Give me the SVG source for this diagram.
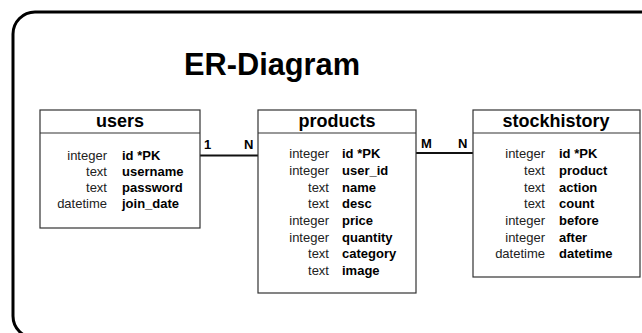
<svg xmlns="http://www.w3.org/2000/svg" width="642" height="333" viewBox="0 0 642 333">
<style>
.frame{fill:none;stroke:#000;stroke-width:3}
.box{fill:#fff;stroke:#333;stroke-width:1.2}
.hdr{font-family:"Liberation Sans",Arial,sans-serif;font-weight:bold;font-size:18px;fill:#000;text-anchor:middle}
.typ{font-family:"Liberation Sans",Arial,sans-serif;font-size:13px;fill:#222;text-anchor:end}
.nm{font-family:"Liberation Sans",Arial,sans-serif;font-size:13px;font-weight:bold;fill:#000}
.card{font-family:"Liberation Sans",Arial,sans-serif;font-size:13px;font-weight:bold;fill:#000}
.conn{stroke:#111;stroke-width:2.2;fill:none}
</style>
<rect width="642" height="333" fill="#fff"/>
<rect class="frame" x="13" y="12" width="660" height="326" rx="22"/>
<text x="272" y="75" font-family="'Liberation Sans',Arial,sans-serif" font-weight="bold" font-size="31" text-anchor="middle" textLength="176" lengthAdjust="spacingAndGlyphs">ER-Diagram</text>
<g id="connectors">
<line class="conn" x1="200" y1="155.5" x2="258" y2="155.5"/>
<line class="conn" x1="416" y1="153" x2="473" y2="153"/>
<text class="card" x="204" y="149">1</text>
<text class="card" x="244" y="149">N</text>
<text class="card" x="421" y="148">M</text>
<text class="card" x="458" y="148">N</text>
</g>
<g id="users">
<rect class="box" x="40" y="110" width="160" height="118"/>
<line class="box" x1="40" y1="133" x2="200" y2="133"/>
<text class="hdr" x="120" y="127">users</text>
<text class="typ" x="107" y="160">integer</text><text class="nm" x="122" y="160">id *PK</text>
<text class="typ" x="107" y="176">text</text><text class="nm" x="122" y="176">username</text>
<text class="typ" x="107" y="192">text</text><text class="nm" x="122" y="192">password</text>
<text class="typ" x="107" y="208">datetime</text><text class="nm" x="122" y="208">join_date</text>
</g>
<g id="products">
<rect class="box" x="258" y="110" width="158" height="183"/>
<line class="box" x1="258" y1="133" x2="416" y2="133"/>
<text class="hdr" x="337" y="127">products</text>
<text class="typ" x="329" y="158">integer</text><text class="nm" x="342" y="158">id *PK</text>
<text class="typ" x="329" y="175">integer</text><text class="nm" x="342" y="175">user_id</text>
<text class="typ" x="329" y="191.5">text</text><text class="nm" x="342" y="191.5">name</text>
<text class="typ" x="329" y="208">text</text><text class="nm" x="342" y="208">desc</text>
<text class="typ" x="329" y="225">integer</text><text class="nm" x="342" y="225">price</text>
<text class="typ" x="329" y="241.5">integer</text><text class="nm" x="342" y="241.5">quantity</text>
<text class="typ" x="329" y="258">text</text><text class="nm" x="342" y="258">category</text>
<text class="typ" x="329" y="275">text</text><text class="nm" x="342" y="275">image</text>
</g>
<g id="stockhistory">
<rect class="box" x="473" y="110" width="167" height="167"/>
<line class="box" x1="473" y1="133" x2="640" y2="133"/>
<text class="hdr" x="556" y="127">stockhistory</text>
<text class="typ" x="545" y="158">integer</text><text class="nm" x="559" y="158">id *PK</text>
<text class="typ" x="545" y="175">text</text><text class="nm" x="559" y="175">product</text>
<text class="typ" x="545" y="191.5">text</text><text class="nm" x="559" y="191.5">action</text>
<text class="typ" x="545" y="208">text</text><text class="nm" x="559" y="208">count</text>
<text class="typ" x="545" y="225">integer</text><text class="nm" x="559" y="225">before</text>
<text class="typ" x="545" y="241.5">integer</text><text class="nm" x="559" y="241.5">after</text>
<text class="typ" x="545" y="258">datetime</text><text class="nm" x="559" y="258">datetime</text>
</g>
</svg>
